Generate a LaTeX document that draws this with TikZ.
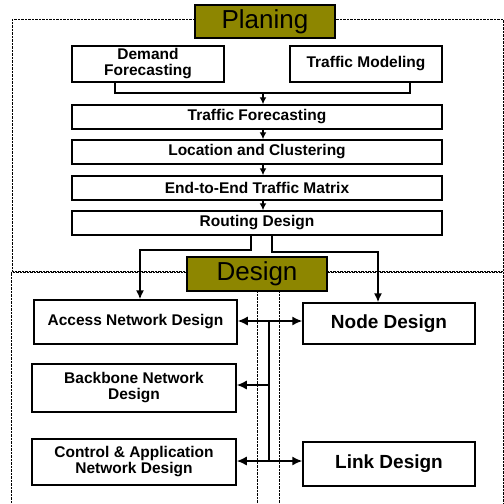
\documentclass[tikz,border=0pt]{standalone}
\usepackage{fontspec}
\setmainfont{Liberation Sans}
\usetikzlibrary{arrows.meta}
\tikzset{>={Latex[length=7pt,width=7pt]}}
\tikzset{
  box/.style={draw,line width=1.5pt,fill=white,align=center,inner sep=0pt,
    font=\bfseries\fontsize{15.5}{16}\selectfont},
  bigbox/.style={box,font=\bfseries\fontsize{19}{20}\selectfont},
  title/.style={draw,line width=1.5pt,fill=olive,inner sep=0pt,
    minimum width=140pt,font=\fontsize{26}{28}\selectfont},
  region/.style={densely dotted,thin},
  flow/.style={line width=1.5pt},
  bigtip/.style={{Latex[length=10pt,width=9pt]}-{Latex[length=10pt,width=9pt]}}
}
\begin{document}
\begin{tikzpicture}[x=1pt,y=-1pt]
\useasboundingbox (0,0) rectangle (504,504);
% dotted regions
\draw[region] (12,19) rectangle (503,271);
\draw[region] (11,504) -- (11,272) -- (503,272) -- (503,504);
\draw[region] (257,291) -- (257,504);
\draw[region] (279,291) -- (279,504);

% planing
\node[title,minimum height=33pt] (plan) at (265,21.5) {Planing};
\node[box,minimum width=152pt,minimum height=36pt] (demand) at (148,64) {Demand\\Forecasting};
\node[box,minimum width=152pt,minimum height=36pt] (tmod) at (366,64) {Traffic Modeling};
\node[box,minimum width=370pt,minimum height=24pt] (tfore) at (257,117) {Traffic Forecasting};
\node[box,minimum width=370pt,minimum height=24pt] (loc) at (257,152) {Location and Clustering};
\node[box,minimum width=370pt,minimum height=24pt] (e2e) at (257,188) {End-to-End Traffic Matrix};
\node[box,minimum width=370pt,minimum height=24pt] (route) at (257,223) {Routing Design};

\coordinate (jl) at (115,93);
\coordinate (jr) at (410,93);
\coordinate (ax) at (263,0);
\draw[flow] (jl |- demand.south) -- (jl) -- (jr) -- (jr |- tmod.south);
\draw[flow,->] (ax |- jl) -- (ax |- tfore.north);
\draw[flow,->] (ax |- tfore.south) -- (ax |- loc.north);
\draw[flow,->] (ax |- loc.south) -- (ax |- e2e.north);
\draw[flow,->] (ax |- e2e.south) -- (ax |- route.north);

% design
\node[box,minimum width=203pt,minimum height=44pt] (access) at (135.5,322) {Access Network Design};
\node[bigbox,minimum width=172pt,minimum height=41pt] (ndes) at (389,323.5) {Node Design};
\node[box,minimum width=204pt,minimum height=48pt] (bbone) at (134,388) {Backbone Network\\Design};
\node[box,minimum width=204pt,minimum height=46pt] (ctrl) at (134,462) {Control \& Application\\Network Design};
\node[bigbox,minimum width=172pt,minimum height=44pt] (ldes) at (389,464) {Link Design};

\coordinate (rl) at (251,250);
\coordinate (al) at (140,250);
\coordinate (rr) at (272,252);
\coordinate (nr) at (378,252);
\draw[flow,->,>={Latex[length=9pt,width=8pt]}] (rl |- route.south) -- (rl) -- (al) -- (al |- access.north);
\draw[flow,->,>={Latex[length=9pt,width=8pt]}] (rr |- route.south) -- (rr) -- (nr) -- (nr |- ndes.north);
\node[title,minimum height=34pt] (dsgn) at (257,274) {Design};

\coordinate (b1) at (269,321);
\coordinate (b2) at (269,385);
\coordinate (b3) at (269,461);
\draw[flow] (b1) -- (b3);
\draw[flow,bigtip] (access.east |- b1) -- (ndes.west |- b1);
\draw[flow,bigtip] (ctrl.east |- b3) -- (ldes.west |- b3);
\draw[flow,-{Latex[length=10pt,width=9pt]}] (b2) -- (bbone.east |- b2);
\end{tikzpicture}
\end{document}
